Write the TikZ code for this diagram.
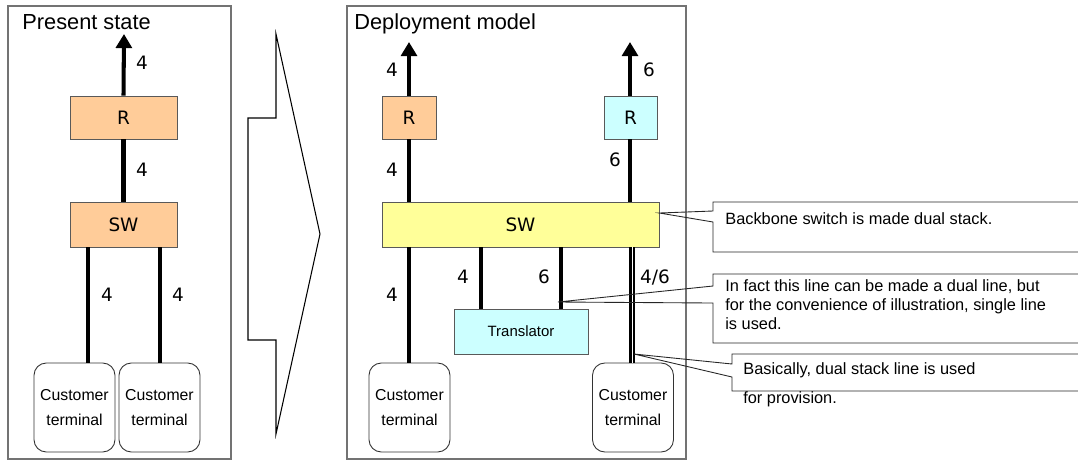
\documentclass[tikz,border=0pt]{standalone}
\usepackage{fontspec}
\setmainfont{Liberation Sans}
\newfontfamily\verdfont{DejaVu Sans}
\usetikzlibrary{shapes.geometric, arrows, arrows.meta}
\usetikzlibrary{positioning}
\definecolor{peach}{HTML}{FFCC99}
\definecolor{lcyan}{HTML}{CCFFFF}
\definecolor{lyellow}{HTML}{FFFF99}
\tikzset{
  panel/.style={draw=black!55, line width=0.6pt},
  title/.style={inner sep=0pt, font=\fontsize{12.4}{14}\selectfont},
  box/.style={draw=black!65, line width=0.5pt, inner sep=0pt, minimum height=0.86cm,
    font=\verdfont\fontsize{10.5}{12}\selectfont},
  term/.style={draw=black!80, line width=0.5pt, rounded corners=7pt, inner sep=0pt,
    minimum width=1.62cm, minimum height=1.78cm, align=center,
    font=\fontsize{9}{14.7}\selectfont},
  link/.style={line width=2.3pt},
  uplink/.style={line width=2.3pt, -{Triangle[width=9pt,length=8pt]}},
  dual/.style={double, double distance=0.5pt, line width=1.2pt},
  lbl/.style={inner sep=0pt, font=\verdfont\fontsize{10.5}{12}\selectfont},
  note/.style={inner sep=0pt, align=left, font=\fontsize{9.3}{10.8}\selectfont},
  callout/.style={draw=black!85, line width=0.5pt}
}
\begin{document}
\begin{tikzpicture}[x=0.02cm, y=-0.02cm]
\useasboundingbox (0,0) rectangle (1078,461);
% panels and big arrow
\draw[panel] (8,6) rectangle (231,459);
\draw[panel] (347,6) rectangle (686,459);
\node[title, anchor=base west] (tpres) at (22,29) {Present state};
\node[title, anchor=base west] (tdep) at (354,29) {Deployment model};
\draw[line width=0.6pt] (276,34) -- (276,118) -- (248,118) -- (248,340) -- (276,340) -- (276,434) -- (320,234) -- cycle;

% present state
\node[box, fill=peach, minimum width=2.14cm] (rp) at (123.5,117.5) {R};
\node[box, fill=peach, minimum width=2.14cm, minimum height=0.9cm] (swp) at (123.5,224.5) {SW};
\node[term] (cta) at (74.5,407.5) {Customer\\terminal};
\node[term] (ctb) at (159.5,407.5) {Customer\\terminal};
\coordinate (upp) at (124,34);
\draw[uplink] (rp.north) -- (upp);
\draw[link] (rp.south) -- (swp.north);
\draw[link] (swp.south -| 88,0) -- (cta.north -| 88,0);
\draw[link] (swp.south -| 160,0) -- (ctb.north -| 160,0);
\node[lbl] (lp1) at (142,63) {4};
\node[lbl] (lp2) at (142,170) {4};
\node[lbl] (lp3) at (107,295) {4};
\node[lbl] (lp4) at (178,295) {4};

% deployment model
\node[box, fill=peach, minimum width=1.08cm] (rd4) at (409,117.5) {R};
\node[box, fill=lcyan, minimum width=1.06cm] (rd6) at (630.5,117.5) {R};
\node[box, fill=lyellow, minimum width=5.54cm, minimum height=0.9cm] (swd) at (520.5,224.5) {SW};
\node[box, fill=lcyan, minimum width=2.68cm, minimum height=0.9cm,
  font=\fontsize{8.5}{10}\selectfont] (tr) at (521,331.5) {Translator};
\node[term] (ctd4) at (409.5,407.5) {Customer\\terminal};
\node[term] (ctd6) at (633,407.5) {Customer\\terminal};
\coordinate (up4) at (409,42);
\coordinate (up6) at (630,42);
\draw[uplink] (rd4.north) -- (up4);
\draw[uplink] (rd6.north -| up6) -- (up6);
\draw[link] (rd4.south) -- (swd.north -| rd4.south);
\draw[link] (rd6.south -| up6) -- (swd.north -| up6);
\draw[link] (swd.south -| 409,0) -- (ctd4.north -| 409,0);
\draw[link] (swd.south -| 481,0) -- (tr.north -| 481,0);
\draw[link] (swd.south -| 561,0) -- (tr.north -| 561,0);
\draw[dual] (swd.south -| 632,0) -- (ctd6.north -| 632,0);
\node[lbl] (ld1) at (392,70) {4};
\node[lbl] (ld2) at (649,70) {6};
\node[lbl] (ld3) at (392,170) {4};
\node[lbl] (ld4) at (615,160) {6};
\node[lbl] (ld5) at (392,295) {4};
\node[lbl] (ld6) at (463,277) {4};
\node[lbl] (ld7) at (544,277) {6};
\node[lbl] (ld8) at (655,277) {4/6};

% callouts
\coordinate (tip1) at (swd.east |- 0,213);
\coordinate (tip2) at (558,302);
\coordinate (tip3) at (634,354);
\draw[callout] (1078,202) -- (713,202) -- (713,211) -- (tip1) -- (713,222) -- (713,252) -- (1078,252);
\draw[callout] (1078,274) -- (713,274) -- (713,286) -- (tip2) -- (713,303) -- (713,343) -- (1078,343);
\draw[callout] (1078,354) -- (732,354) -- (732,364) -- (tip3) -- (732,377) -- (732,391) -- (1078,391);
\node[note, anchor=west] (n1) at (725,219) {Backbone switch is made dual stack.};
\node[note, anchor=west] (n2) at (725,305) {In fact this line can be made a dual line, but\\for the convenience of illustration, single line\\is used.};
\node[note, anchor=west, font=\fontsize{9.3}{16.5}\selectfont] (n3) at (743,385) {Basically, dual stack line is used\\for provision.};
\end{tikzpicture}
\end{document}
